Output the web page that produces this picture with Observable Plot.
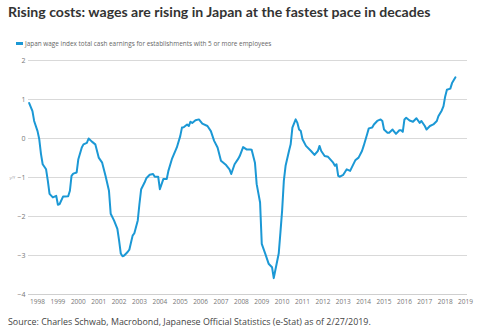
<!DOCTYPE html>
<html>
<head>
<meta charset="utf-8">
<script src="https://cdn.jsdelivr.net/npm/d3@7"></script>
<script src="https://cdn.jsdelivr.net/npm/@observablehq/plot@0.6"></script>
<style>
  html, body { margin: 0; padding: 0; background: #fff; width: 500px; height: 336px; overflow: hidden; }
  body { position: relative; font-family: "Open Sans", sans-serif; }
  #title { position: absolute; left: 8px; top: 3px; font-family: Lato, sans-serif; font-size: 14.1px; font-weight: 700; color: #333; white-space: nowrap; }
  #legend { position: absolute; left: 16px; top: 39px; font-size: 6.4px; color: #666; white-space: nowrap; display: flex; align-items: center; }
  #legend .sw { display: inline-block; width: 7px; height: 2.5px; background: #1b98d5; margin-right: 2px; }
  #chart { position: absolute; left: 0; top: 52px; }
  #caption { position: absolute; left: 8px; top: 315px; font-size: 8.9px; color: #444; white-space: nowrap; }
</style>
</head>
<body>
<div id="title">Rising costs: wages are rising in Japan at the fastest pace in decades</div>
<div id="legend"><span class="sw"></span>Japan wage index total cash earnings for establishments with 5 or more employees</div>
<div id="chart"></div>
<div id="caption">Source: Charles Schwab, Macrobond, Japanese Official Statistics (e-Stat) as of 2/27/2019.</div>
<script>
const seriesName = "Japan wage index total cash earnings for establishments with 5 or more employees";
const months = [
  "1998-02","1998-04","1998-05","1998-07","1998-08","1998-09","1998-10","1998-12",
  "1999-01","1999-02","1999-04","1999-06","1999-07","1999-08","1999-10","1999-11",
  "2000-01","2000-02","2000-03","2000-04","2000-06","2000-07","2000-09","2000-10","2000-12",
  "2001-01","2001-03","2001-05","2001-07","2001-09","2001-11",
  "2002-01","2002-02","2002-04","2002-06","2002-07","2002-08","2002-09","2002-10","2002-12",
  "2003-01","2003-02","2003-03","2003-04","2003-06","2003-07","2003-08","2003-10","2003-11",
  "2004-01","2004-03","2004-04","2004-06","2004-07","2004-09","2004-11","2004-12",
  "2005-02","2005-05","2005-07","2005-08","2005-09","2005-11","2005-12",
  "2006-01","2006-02","2006-04","2006-06","2006-08","2006-11",
  "2007-01","2007-03","2007-05","2007-07","2007-10","2007-12",
  "2008-01","2008-03","2008-05","2008-06","2008-08","2008-10","2008-12",
  "2009-01","2009-03","2009-04","2009-06","2009-07","2009-09","2009-11",
  "2010-01","2010-02","2010-03","2010-05","2010-06","2010-07","2010-08","2010-09","2010-11","2010-12",
  "2011-01","2011-03","2011-04","2011-05","2011-06","2011-07","2011-09","2011-12",
  "2012-02","2012-04","2012-05","2012-06","2012-08","2012-10",
  "2013-01","2013-02","2013-03","2013-04","2013-05","2013-07","2013-09","2013-11","2013-12",
  "2014-02","2014-04","2014-06","2014-07","2014-09","2014-10","2014-12",
  "2015-01","2015-03","2015-05","2015-06","2015-07","2015-09","2015-10","2015-12",
  "2016-02","2016-04","2016-05","2016-06","2016-07","2016-08","2016-10","2016-12",
  "2017-02","2017-04","2017-05","2017-07","2017-08","2017-10","2017-12",
  "2018-02","2018-03","2018-05","2018-06","2018-07","2018-08","2018-10","2018-11",
  "2019-01"
];
const values = [
  0.91,0.70,0.45,0.19,-0.02,-0.40,-0.66,-0.79,
  -1.08,-1.42,-1.51,-1.47,-1.70,-1.68,-1.49,-1.49,
  -1.48,-1.34,-0.96,-0.90,-0.87,-0.53,-0.23,-0.15,-0.11,
  0.00,-0.08,-0.15,-0.49,-0.62,-0.96,
  -1.34,-1.93,-2.10,-2.32,-2.61,-2.95,-3.02,-3.00,-2.91,
  -2.85,-2.66,-2.49,-2.43,-2.10,-1.68,-1.30,-1.13,-1.02,
  -0.93,-0.91,-0.98,-0.98,-1.30,-1.04,-1.04,-0.83,
  -0.53,-0.23,0.06,0.28,0.29,0.36,0.32,
  0.43,0.40,0.47,0.49,0.38,0.32,
  0.19,-0.06,-0.23,-0.57,-0.68,-0.79,
  -0.91,-0.66,-0.53,-0.45,-0.22,-0.28,-0.28,
  -0.29,-0.62,-1.17,-1.64,-2.70,-2.95,-3.21,
  -3.30,-3.58,-3.38,-2.95,-2.40,-1.85,-1.08,-0.70,-0.32,-0.15,
  0.28,0.49,0.40,0.23,0.19,-0.02,-0.19,-0.32,
  -0.42,-0.32,-0.19,-0.32,-0.45,-0.47,
  -0.62,-0.70,-0.66,-0.96,-0.98,-0.93,-0.79,-0.83,-0.74,
  -0.56,-0.49,-0.32,-0.19,0.11,0.26,0.28,
  0.36,0.45,0.49,0.45,0.23,0.15,0.15,0.23,
  0.12,0.21,0.21,0.17,0.49,0.53,0.46,0.43,
  0.52,0.40,0.45,0.32,0.23,0.32,0.36,
  0.45,0.57,0.72,0.83,1.08,1.25,1.28,1.42,
  1.57
];
const yearLabels = d3.range(1998, 2020);
const yTicks = [-4, -3, -2, -1, 0, 1, 2];
const unitLabel = ["y/Y"];

const data = months.map((m, i) => ({date: d3.utcParse("%Y-%m")(m), value: values[i]}));

const plot = Plot.plot({
  width: 500,
  height: 258,
  marginTop: 8,
  marginBottom: 16,
  marginLeft: 28,
  marginRight: 33,
  style: {fontFamily: "Open Sans, sans-serif", background: "transparent", overflow: "visible"},
  x: {type: "utc", domain: [new Date(Date.UTC(1998,0,20)), new Date(Date.UTC(2019,7,5))]},
  y: {domain: [-4, 2]},
  marks: [
    Plot.gridY(yTicks, {stroke: "#d9d9d9", strokeOpacity: 1, strokeWidth: 1}),
    Plot.ruleY([-4], {stroke: "#cfcfcf", strokeWidth: 1}),
    Plot.axisY({ticks: yTicks, tickFormat: d3.format("d"), tickSize: 0, tickPadding: 3, fontSize: 7, fill: "#777", label: null}),
    Plot.axisX({ticks: yearLabels.map(y => new Date(Date.UTC(y, 6, 1))), tickFormat: d => String(d.getUTCFullYear()), tickSize: 0, tickPadding: 5, fontSize: 6.5, fill: "#777", label: null}),
    Plot.text(unitLabel, {frameAnchor: "left", dx: -19, y: [-1], fontSize: 4, fill: "#999"}),
    Plot.line(data, {x: "date", y: "value", stroke: "#1b98d5", strokeWidth: 2, curve: "linear"})
  ]
});
document.getElementById("chart").appendChild(plot);
</script>
</body>
</html>
